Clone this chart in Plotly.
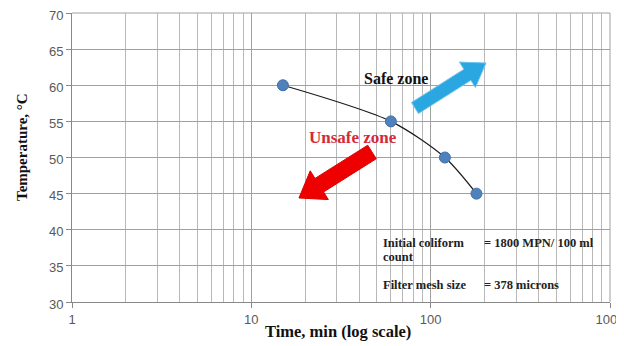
import plotly.graph_objects as go
import math

# Data
time_min = [15, 60, 120, 180]
temperature_c = [60, 55, 50, 45]
x_tick_vals = [1, 10, 100, 1000]
x_tick_text = ["1", "10", "100", "1000"]
y_tick_vals = [30, 35, 40, 45, 50, 55, 60, 65, 70]

# page body offset of 8px is compensated
OFF = 8
W, H = 624 - OFF, 346 - OFF
PX0, PX1, PY0, PY1 = 72, 610, 13, 302   # plot area in screen pixels
L, R, T, B = PX0 - OFF, 624 - PX1, PY0 - OFF, 346 - PY1
PW, PH = PX1 - PX0, PY1 - PY0

def to_paper(px, py):
    return ((px - PX0) / PW, 1 - (py - PY0) / PH)

def arrow_path(tail, tip, body_w, head_w, head_len):
    tx, ty = tail
    hx, hy = tip
    dx, dy = hx - tx, hy - ty
    ln = math.hypot(dx, dy)
    ux, uy = dx / ln, dy / ln
    nx, ny = -uy, ux
    bx, by = hx - ux * head_len, hy - uy * head_len
    pts = [
        (tx + nx * body_w / 2, ty + ny * body_w / 2),
        (bx + nx * body_w / 2, by + ny * body_w / 2),
        (bx + nx * head_w / 2, by + ny * head_w / 2),
        (hx, hy),
        (bx - nx * head_w / 2, by - ny * head_w / 2),
        (bx - nx * body_w / 2, by - ny * body_w / 2),
        (tx - nx * body_w / 2, ty - ny * body_w / 2),
    ]
    pp = [to_paper(x, y) for x, y in pts]
    return "M " + " L ".join(f"{x:.4f},{y:.4f}" for x, y in pp) + " Z"

fig = go.Figure()
fig.add_trace(go.Scatter(
    x=time_min, y=temperature_c, mode="lines+markers",
    line=dict(color="#1a1a1a", width=1.2, shape="spline", smoothing=0.8),
    marker=dict(color="#4f81bd", size=11, line=dict(color="#3f6fa8", width=1)),
    showlegend=False, cliponaxis=False,
))

grid = "#b8b8b8"
tickfont = dict(family="Liberation Sans", size=13, color="#595959")
fig.update_xaxes(
    type="log", range=[0, 3], tickvals=x_tick_vals, ticktext=x_tick_text,
    showgrid=True, gridcolor="#a0a0a0", gridwidth=1, automargin=False,
    minor=dict(showgrid=True, gridcolor=grid, gridwidth=1, dtick="D1", ticks=""),
    ticks="outside", ticklen=5, tickcolor="#888888", ticklabeloverflow="allow",
    showline=True, linecolor="#888888", linewidth=1, zeroline=False,
    tickfont=tickfont,
)
fig.update_yaxes(
    range=[30, 70], tickvals=y_tick_vals, automargin=False,
    showgrid=True, gridcolor="#a0a0a0", gridwidth=1,
    ticks="outside", ticklen=5, tickcolor="#888888", ticklabeloverflow="allow",
    ticklabelshift=2,
    showline=True, linecolor="#888888", linewidth=1, zeroline=False,
    tickfont=tickfont,
)

shapes = [
    dict(type="path", xref="paper", yref="paper",
         path=arrow_path((415, 108), (486, 63), 13, 30, 22),
         fillcolor="#2aa6e0", line=dict(color="#6cc4ee", width=1)),
    dict(type="path", xref="paper", yref="paper",
         path=arrow_path((372, 152), (299, 198), 16, 34, 24),
         fillcolor="#ee0000", line=dict(color="#dd0000", width=1)),
    dict(type="line", xref="paper", yref="paper", x0=1, x1=1, y0=0, y1=1,
         line=dict(color="#a0a0a0", width=1), layer="below"),
    dict(type="line", xref="paper", yref="paper", x0=0, x1=1, y0=1, y1=1,
         line=dict(color="#a0a0a0", width=1), layer="below"),
]

serif_b = dict(family="Liberation Serif", size=16, color="#111111")
note_font = dict(family="Liberation Serif", size=12.5, color="#222222")
annotations = []
def add_text(px, py, text, font, xanchor="left", angle=0):
    x, y = to_paper(px, py)
    annotations.append(dict(x=x, y=y, xref="paper", yref="paper", text=text,
                            showarrow=False, xanchor=xanchor, yanchor="middle",
                            font=font, textangle=angle))

add_text(362, 79, "<b>Safe zone</b>", serif_b)
add_text(307, 137, "<b>Unsafe zone</b>", dict(family="Liberation Serif", size=17, color="#d42a3a"))
add_text(381, 243, "<b>Initial coliform</b>", note_font)
add_text(482, 243, "<b>= 1800 MPN/ 100 ml</b>", note_font)
add_text(381, 257, "<b>count</b>", note_font)
add_text(381, 285, "<b>Filter mesh size</b>", note_font)
add_text(482, 285, "<b>= 378 microns</b>", note_font)
add_text(338, 331, "<b>Time, min (log scale)</b>",
         dict(family="Liberation Serif", size=16.5, color="#111111"), xanchor="center")
add_text(22, 147, "<b>Temperature, °C</b>",
         dict(family="Liberation Serif", size=15, color="#111111"), xanchor="center", angle=-90)

fig.update_layout(
    width=W, height=H, margin=dict(l=L, r=R, t=T, b=B, autoexpand=False),
    paper_bgcolor="white", plot_bgcolor="white",
    shapes=shapes, annotations=annotations,
)
fig.write_html("out.html")
